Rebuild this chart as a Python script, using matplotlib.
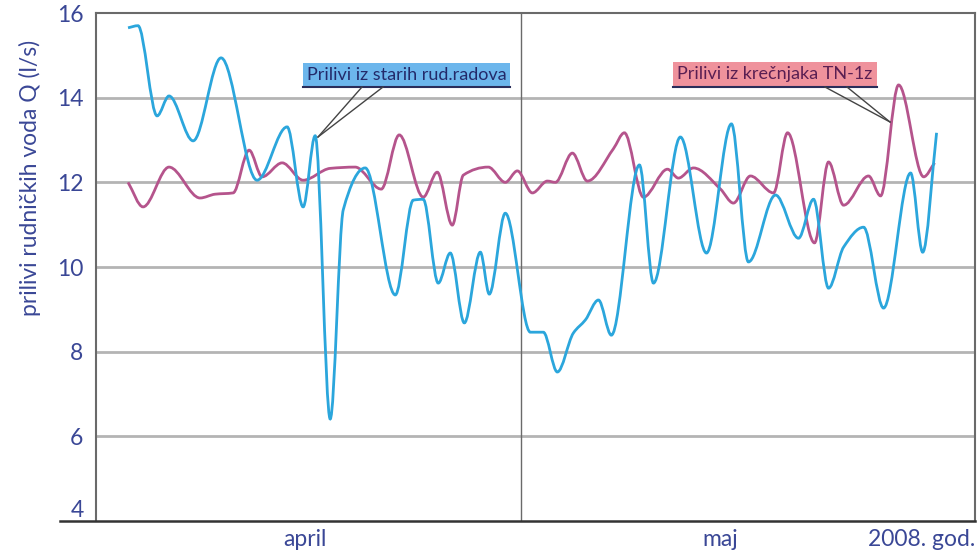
import numpy as np
import matplotlib
matplotlib.use("Agg")
import matplotlib.pyplot as plt
import matplotlib.transforms as mtransforms
from matplotlib.path import Path
from matplotlib.patches import PathPatch, Rectangle
import matplotlib.lines as mlines

# ---- data (day since 1 April, discharge l/s) ----
blue_x = [2.26, 2.96, 4.31, 5.15, 6.85, 8.82, 11.36, 13.48, 14.61, 15.46, 16.52, 17.44,
          18.99, 21.11, 22.38, 23.08, 24.14, 24.99, 25.98, 27.11, 27.74, 28.87, 30.64,
          31.55, 32.54, 33.67, 34.52, 35.44, 36.35, 38.33, 39.32, 41.22, 43.06, 44.82,
          46.02, 47.93, 49.55, 50.61, 51.67, 52.73, 54.14, 55.55, 57.46, 58.31, 59.29]
blue_y = [15.65, 15.70, 13.57, 14.04, 12.98, 14.94, 12.05, 13.31, 11.42, 13.10, 6.41, 11.35,
          12.34, 9.34, 11.58, 11.60, 9.62, 10.33, 8.68, 10.35, 9.36, 11.27, 8.46,
          8.46, 7.52, 8.44, 8.75, 9.22, 8.39, 12.41, 9.62, 13.07, 10.33, 13.38,
          10.12, 11.70, 10.68, 11.60, 9.50, 10.47, 10.94, 9.03, 12.22, 10.35, 13.17]

pink_x = [2.26, 3.32, 5.15, 7.34, 8.4, 9.67, 10.80, 11.72, 13.13, 14.61, 16.52, 18.28,
          20.12, 21.39, 23.08, 24.07, 25.13, 25.91, 27.67, 28.87, 29.72, 30.78, 31.84,
          32.40, 33.60, 34.66, 36.49, 37.27, 38.61, 40.31, 41.08, 42.14, 44.05, 44.96,
          46.16, 47.79, 48.78, 50.68, 51.67, 52.73, 54.49, 55.34, 56.61, 58.38, 59.15]
pink_y = [12.00, 11.42, 12.36, 11.63, 11.72, 11.75, 12.76, 12.13, 12.46, 12.05, 12.33, 12.36,
          11.84, 13.12, 11.65, 12.24, 10.99, 12.17, 12.36, 12.00, 12.27, 11.75, 12.03,
          12.00, 12.69, 12.03, 12.79, 13.17, 11.65, 12.31, 12.10, 12.34, 11.84, 11.51,
          12.15, 11.75, 13.17, 10.57, 12.48, 11.46, 12.15, 11.68, 14.30, 12.13, 12.46]

y_ticks = [4, 6, 8, 10, 12, 14, 16]
x_labels = ["april", "maj", "2008. god."]
x_label_pos = [14.75, 44.0, 58.2]
series_names = ["Prilivi iz starih rud.radova", "Prilivi iz krečnjaka TN-1z"]

TXT = "#3a4796"
BLUE = "#2ba6dc"
PINK = "#b5548c"


def smooth_path(x, y):
    x = np.asarray(x, float); y = np.asarray(y, float)
    h = np.diff(x); d = np.diff(y) / h
    n = len(x)
    m = np.zeros(n)
    for k in range(1, n - 1):
        if d[k - 1] * d[k] <= 0:
            m[k] = 0.0
        else:
            w1 = 2 * h[k] + h[k - 1]
            w2 = h[k] + 2 * h[k - 1]
            m[k] = (w1 + w2) / (w1 / d[k - 1] + w2 / d[k])
    m[0] = d[0]; m[-1] = d[-1]
    verts = [(x[0], y[0])]
    codes = [Path.MOVETO]
    for i in range(n - 1):
        verts += [(x[i] + h[i] / 3, y[i] + m[i] * h[i] / 3),
                  (x[i + 1] - h[i] / 3, y[i + 1] - m[i + 1] * h[i] / 3),
                  (x[i + 1], y[i + 1])]
        codes += [Path.CURVE4] * 3
    return Path(verts, codes)


plt.rcParams['font.family'] = ['Lato', 'DejaVu Sans']
fig = plt.figure(figsize=(9.79, 5.53), dpi=100)
ax = fig.add_axes([96 / 979, 32 / 553, (975 - 96) / 979, (521 - 13) / 553])
ax.set_xlim(0, 62)
ax.set_ylim(4, 16)

for yv in y_ticks[1:-1]:
    ax.axhline(yv, color="#b4b4b4", lw=2.0, zorder=1)
ax.axvline(30, color="#6a6a6a", lw=1.0, zorder=1)

ax.add_patch(PathPatch(smooth_path(pink_x, pink_y), fill=False, edgecolor=PINK, lw=2.0, zorder=3))
ax.add_patch(PathPatch(smooth_path(blue_x, blue_y), fill=False, edgecolor=BLUE, lw=2.0, zorder=4))

ax.set_yticks(y_ticks)
ax.set_yticklabels([str(v) for v in y_ticks])
ax.tick_params(axis='y', length=0, pad=9, labelsize=16.5, labelcolor=TXT)
ax.set_xticks([])
lbls = ax.get_yticklabels()
lbls[0].set_verticalalignment('bottom')

for s in ["left", "top", "right"]:
    ax.spines[s].set_color("#6a6a6a")
    ax.spines[s].set_linewidth(1.5)
ax.spines["bottom"].set_visible(False)
fig.add_artist(mlines.Line2D([60 / 979, 975 / 979], [32 / 553, 32 / 553],
                             color="#333333", lw=1.8, transform=fig.transFigure))

xlab_tr = mtransforms.blended_transform_factory(ax.transData, fig.transFigure)
for lab, xp in zip(x_labels, x_label_pos):
    ax.text(xp, 1 - 539 / 553, lab, transform=xlab_tr,
            ha="center", va="center", fontsize=16.5, color=TXT)

fig.text(30 / 979, 1 - 178 / 553, "prilivi rudničkih voda Q (l/s)", rotation=90,
         ha="center", va="center", fontsize=16.5, color=TXT)


def px(xp, yp):
    return (xp / 979, 1 - yp / 553)


def box(x0, y0, x1, y1, fc, text, tc, p1, p2, tip):
    fig.add_artist(Rectangle(px(x0, y1), (x1 - x0) / 979, (y1 - y0) / 553,
                             transform=fig.transFigure, facecolor=fc, edgecolor="none", zorder=5))
    fig.add_artist(mlines.Line2D([x0 / 979, x1 / 979], [1 - y1 / 553] * 2, color="#2a2d5a",
                                 lw=1.5, transform=fig.transFigure, zorder=6))
    fig.text((x0 + x1) / 2 / 979, 1 - (y0 + y1) / 2 / 553, text, ha="center", va="center",
             fontsize=13, color=tc, zorder=7)
    for p in (p1, p2):
        fig.add_artist(mlines.Line2D([p[0] / 979, tip[0] / 979], [1 - p[1] / 553, 1 - tip[1] / 553],
                                     color="#444444", lw=1.0, transform=fig.transFigure, zorder=6))


box(303, 63, 510, 87, "#6cb6ec", series_names[0], "#232a6a", (362, 87), (383, 87), (318, 137))
box(673, 62, 877, 87, "#ef929c", series_names[1], "#5a1f52", (825, 87), (847, 87), (890, 122))

fig.savefig("out.png", dpi=100, facecolor="white")
